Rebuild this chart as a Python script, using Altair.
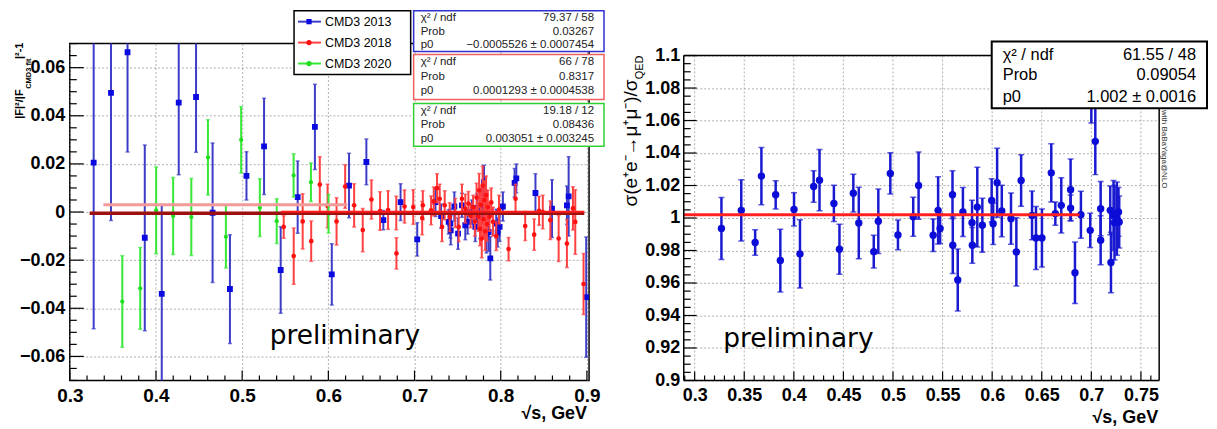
import altair as alt
import pandas as pd

# ---------------- LEFT PANEL DATA: |F|^2/|F_CMD3 fit|^2 - 1 ----------------
# (sqrt(s) [GeV], value, error)
cmd3_2013 = [
    (0.3277, 0.0205, 0.069), (0.3478, 0.0495, 0.053), (0.3670, 0.0664, 0.0415),
    (0.3870, -0.0107, 0.0386), (0.4067, -0.0340, 0.037), (0.4264, 0.0455, 0.030),
    (0.4465, 0.0478, 0.023), (0.4657, -0.0003, 0.029), (0.4858, -0.0320, 0.0226),
    (0.5050, 0.0150, 0.010), (0.5254, 0.0273, 0.020), (0.5447, -0.0241, 0.018),
    (0.5644, 0.0062, 0.015), (0.5844, 0.0354, 0.0177), (0.6040, -0.0259, 0.0127),
    (0.6240, 0.0110, 0.0134), (0.6441, 0.0208, 0.0095), (0.6638, -0.0034, 0.004),
    (0.6838, 0.0041, 0.0076), (0.7031, -0.0114, 0.0069), (0.7243, 0.0041, 0.006),
    (0.7308, -0.0017, 0.005), (0.7396, -0.0041, 0.005), (0.7416, -0.0048, 0.006),
    (0.7420, -0.0076, 0.006), (0.7462, 0.0023, 0.006), (0.7505, -0.0090, 0.0065),
    (0.7550, 0.0028, 0.005), (0.7589, -0.0055, 0.006), (0.7616, -0.0041, 0.005),
    (0.7666, 0.0000, 0.005), (0.7705, -0.0062, 0.006), (0.7724, 0.0017, 0.006),
    (0.7760, -0.0040, 0.007), (0.7785, 0.0030, 0.007), (0.7806, 0.0124, 0.007),
    (0.7820, 0.0080, 0.006), (0.7835, -0.0090, 0.008), (0.7860, -0.0083, 0.008),
    (0.7879, -0.0193, 0.009), (0.7948, -0.0048, 0.006), (0.7964, -0.0085, 0.006),
    (0.7987, -0.0062, 0.006), (0.8025, 0.0023, 0.006), (0.8161, 0.0121, 0.006),
    (0.8181, 0.0140, 0.006), (0.8403, 0.0079, 0.008), (0.8595, 0.0014, 0.012),
    (0.8768, 0.0028, 0.008), (0.8788, 0.0065, 0.0165), (0.8992, -0.0354, 0.025),
]
cmd3_2018 = [
    (0.5482, -0.0062, 0.0047), (0.5598, -0.0183, 0.0117), (0.5702, -0.0039, 0.0115),
    (0.5801, -0.0121, 0.0084), (0.5901, 0.0114, 0.0116), (0.5991, 0.0025, 0.009),
    (0.6095, -0.0039, 0.0098), (0.6195, 0.0106, 0.009), (0.6299, 0.0028, 0.009),
    (0.6399, -0.0075, 0.009), (0.6500, 0.0052, 0.0081), (0.6600, 0.0004, 0.008),
    (0.6693, 0.0008, 0.008), (0.6788, -0.0004, 0.007), (0.6790, -0.0172, 0.0065),
    (0.6884, 0.0023, 0.0069), (0.6985, 0.0021, 0.0072), (0.7089, -0.0025, 0.0069),
    (0.7096, 0.0028, 0.006), (0.7192, 0.0007, 0.006), (0.7223, 0.0044, 0.006),
    (0.7261, 0.0099, 0.006), (0.7292, 0.0055, 0.006), (0.7319, -0.0062, 0.006),
    (0.7350, 0.0028, 0.006), (0.7408, -0.0021, 0.006), (0.7473, -0.0004, 0.006),
    (0.7512, -0.0062, 0.006), (0.7550, 0.0055, 0.006), (0.7589, 0.0014, 0.006),
    (0.7625, 0.0035, 0.005), (0.7650, -0.0015, 0.005), (0.7680, 0.0020, 0.005),
    (0.7700, -0.0040, 0.006), (0.7720, 0.0060, 0.006), (0.7740, -0.0020, 0.006),
    (0.7750, 0.0090, 0.007), (0.7760, -0.0070, 0.007), (0.7770, 0.0030, 0.007),
    (0.7780, -0.0110, 0.008), (0.7790, 0.0110, 0.008), (0.7800, -0.0030, 0.008),
    (0.7810, 0.0050, 0.008), (0.7820, -0.0080, 0.008), (0.7830, 0.0070, 0.008),
    (0.7840, -0.0050, 0.007), (0.7850, 0.0020, 0.007), (0.7870, -0.0020, 0.006),
    (0.7890, 0.0040, 0.006), (0.7910, -0.0040, 0.006), (0.7948, -0.0100, 0.006),
    (0.7980, 0.0010, 0.006), (0.8091, -0.0154, 0.0048), (0.8172, 0.0055, 0.006),
    (0.8284, -0.0058, 0.006), (0.8388, -0.0094, 0.0065), (0.8445, 0.0005, 0.006),
    (0.8488, 0.0000, 0.007), (0.8576, -0.0034, 0.008), (0.8672, -0.0110, 0.0096),
    (0.8768, -0.0131, 0.010), (0.8838, 0.0015, 0.009), (0.8865, -0.0041, 0.0134),
    (0.8961, -0.0299, 0.0127),
]
cmd3_2020 = [
    (0.3609, -0.0372, 0.019), (0.3817, -0.0317, 0.017), (0.4002, 0.0007, 0.018),
    (0.4199, -0.0017, 0.016), (0.4410, -0.0021, 0.016), (0.4603, 0.0227, 0.0156),
    (0.4811, -0.0103, 0.013), (0.4988, 0.0300, 0.0138), (0.5205, 0.0018, 0.012),
    (0.5401, -0.0038, 0.0093), (0.5597, 0.0152, 0.009), (0.5798, 0.0124, 0.008),
    (0.6002, -0.0007, 0.008),
]
series_names = ["CMD3 2013", "CMD3 2018", "CMD3 2020"]
fit_p0 = [-0.0005526, 0.0001293, 0.003051]
fit_xmin = [0.323, 0.545, 0.339]
fit_xmax = [0.897, 0.897, 0.622]
stat_labels = ["\u03c7\u00b2 / ndf", "Prob", "p0"]
stat_2013 = ["79.37 / 58", "0.03267", "\u22120.0005526 \u00b1 0.0007454"]
stat_2018 = ["66 / 78", "0.8317", "0.0001293 \u00b1 0.0004538"]
stat_2020 = ["19.18 / 12", "0.08436", "0.003051 \u00b1 0.003245"]
left_xticks = [0.3, 0.4, 0.5, 0.6, 0.7, 0.8, 0.9]
left_yticks = [-0.06, -0.04, -0.02, 0.0, 0.02, 0.04, 0.06]

# ---------------- RIGHT PANEL DATA: sigma(ee->mumu)/sigma_QED ----------------
mumu = [
    (0.3270, 0.9935, 0.0191), (0.3470, 1.0047, 0.0189), (0.3610, 0.9849, 0.0079),
    (0.3673, 1.0258, 0.0176), (0.3817, 1.0143, 0.0087), (0.3864, 0.9738, 0.0193),
    (0.4002, 1.0053, 0.0102), (0.4062, 0.9779, 0.0210), (0.4200, 1.0194, 0.0097),
    (0.4259, 1.0233, 0.0189), (0.4404, 1.0090, 0.0112), (0.4460, 0.9808, 0.0154),
    (0.4600, 1.0153, 0.0116), (0.4655, 0.9969, 0.0220), (0.4806, 0.9793, 0.0101),
    (0.4852, 0.9980, 0.0198), (0.4973, 1.0274, 0.0127), (0.5050, 0.9896, 0.0092),
    (0.5204, 1.0008, 0.0120), (0.5258, 1.0200, 0.0207), (0.5405, 0.9894, 0.0100),
    (0.5455, 1.0047, 0.0207), (0.5475, 0.9935, 0.0092), (0.5600, 1.0143, 0.0148),
    (0.5603, 0.9832, 0.0174), (0.5653, 0.9618, 0.0191), (0.5705, 1.0037, 0.0151),
    (0.5797, 0.9971, 0.0138), (0.5800, 0.9832, 0.0110), (0.5850, 1.0067, 0.0245),
    (0.5901, 0.9955, 0.0166), (0.5995, 1.0108, 0.0133), (0.6010, 0.9965, 0.0128),
    (0.6050, 1.0217, 0.0213), (0.6097, 1.0043, 0.0158), (0.6190, 0.9996, 0.0158),
    (0.6244, 0.9791, 0.0210), (0.6292, 1.0231, 0.0158), (0.6402, 1.0016, 0.0150),
    (0.6442, 0.9877, 0.0194), (0.6502, 0.9877, 0.0178), (0.6596, 1.0278, 0.0179),
    (0.6637, 1.0027, 0.0072), (0.6697, 1.0078, 0.0170), (0.6791, 1.0174, 0.0189),
    (0.6791, 1.0061, 0.0080), (0.6835, 0.9663, 0.0189), (0.6895, 1.0020, 0.0145),
    (0.6989, 0.9924, 0.0105), (0.7000, 1.0720, 0.0135), (0.7040, 1.0472, 0.0205),
    (0.7094, 1.0057, 0.0167), (0.7094, 0.9863, 0.0151), (0.7191, 1.0047, 0.0150),
    (0.7198, 0.9726, 0.0186), (0.7224, 1.0016, 0.0215), (0.7234, 0.9971, 0.0230),
    (0.7258, 0.9996, 0.0225), (0.7274, 1.0037, 0.0150), (0.7281, 0.9975, 0.0160),
]
mumu_fit_p0 = [1.002]
mumu_fit_xmin = [0.289]
mumu_fit_xmax = [0.688]
mumu_stat = ["61.55 / 48", "0.09054", "1.002 \u00b1 0.0016"]
right_xticks = [0.3, 0.35, 0.4, 0.45, 0.5, 0.55, 0.6, 0.65, 0.7, 0.75]
right_yticks = [0.9, 0.92, 0.94, 0.96, 0.98, 1.0, 1.02, 1.04, 1.06, 1.08, 1.1]

FONT = "Liberation Sans"
ONE = pd.DataFrame({"a": [0]})
GRID = "#9a9a9a"


def frame(pts):
    df = pd.DataFrame(pts, columns=["x", "y", "e"])
    df["lo"] = df["y"] - df["e"]
    df["hi"] = df["y"] + df["e"]
    return df


def minor(lo, hi, step, majors):
    n = int(round((hi - lo) / step))
    vals = [round(lo + i * step, 4) for i in range(n + 1)]
    return [v for v in vals if all(abs(v - m) > 1e-6 for m in majors)]


def text(x, y, s, size, **kw):
    return alt.Chart(ONE).mark_text(font=kw.pop("font", FONT), fontSize=size, **kw).encode(
        x=alt.value(x), y=alt.value(y), text=alt.value(s))


def box(x1, x2, y1, y2, stroke, sw=1.5):
    return alt.Chart(ONE).mark_rect(fill="white", stroke=stroke, strokeWidth=sw).encode(
        x=alt.value(x1), x2=alt.value(x2), y=alt.value(y1), y2=alt.value(y2))


def hline(x1, x2, y, color="black", sw=1.5):
    return alt.Chart(ONE).mark_rule(color=color, strokeWidth=sw).encode(
        x=alt.value(x1), x2=alt.value(x2), y=alt.value(y))


def vline(x, y1, y2, color="black", sw=1.5):
    return alt.Chart(ONE).mark_rule(color=color, strokeWidth=sw).encode(
        x=alt.value(x), y=alt.value(y1), y2=alt.value(y2))


def panel(xs, ys, xaxis, yaxis, W, H, top, xmaj, xmin_, ymaj, ymin_, tl, xgrid):
    def X(f):
        return alt.X(f, type="quantitative", scale=xs, axis=xaxis, title=None)

    def Y(f):
        return alt.Y(f, type="quantitative", scale=ys, axis=yaxis, title=None)

    layers = []
    xmj = pd.DataFrame({"v": xmaj})
    xmn = pd.DataFrame({"v": xmin_})
    ymj = pd.DataFrame({"v": ymaj})
    ymn = pd.DataFrame({"v": ymin_})
    if xgrid:
        layers.append(alt.Chart(xmj).mark_rule(color=GRID, strokeWidth=0.8, strokeDash=[2, 2]).encode(
            x=X("v"), y=alt.value(top), y2=alt.value(H)))
    layers.append(alt.Chart(xmj).mark_rule(color="black", strokeWidth=1.2).encode(
        x=X("v"), y=alt.value(H), y2=alt.value(H - tl[0])))
    layers.append(alt.Chart(xmn).mark_rule(color="black", strokeWidth=1.2).encode(
        x=X("v"), y=alt.value(H), y2=alt.value(H - tl[1])))
    layers.append(alt.Chart(ymj).mark_rule(color="black", strokeWidth=1.2).encode(
        y=Y("v"), x=alt.value(0), x2=alt.value(tl[2])))
    layers.append(alt.Chart(ymn).mark_rule(color="black", strokeWidth=1.2).encode(
        y=Y("v"), x=alt.value(0), x2=alt.value(tl[3])))
    return X, Y, layers


def series(df, X, Y, barcol, markcol, shape, size, bw, cap):
    return [
        alt.Chart(df).mark_rule(color=barcol, strokeWidth=bw, clip=True).encode(
            x=X("x"), y=Y("lo"), y2=alt.Y2("hi")),
        alt.Chart(df).mark_tick(color=barcol, orient="horizontal", size=cap, thickness=1.5,
                                clip=True).encode(x=X("x"), y=Y("lo")),
        alt.Chart(df).mark_tick(color=barcol, orient="horizontal", size=cap, thickness=1.5,
                                clip=True).encode(x=X("x"), y=Y("hi")),
        alt.Chart(df).mark_point(shape=shape, filled=True, size=size, color=markcol,
                                 opacity=1, clip=True).encode(x=X("x"), y=Y("y")),
    ]


def axis_cfg(vals, fmt, size, pad, grid=True):
    return alt.Axis(values=vals, labelExpr="format(datum.value, '%s')" % fmt,
                    labelFont=FONT, labelFontSize=size, labelFontWeight="bold",
                    labelColor="black", labelPadding=pad, labelFlush=False,
                    labelOverlap=False, ticks=False, domain=False, grid=grid,
                    gridDash=[2, 2], gridColor=GRID, gridWidth=0.8)


# ================= LEFT =================
LW, LH = 521, 338
xsL = alt.Scale(domain=[0.3, 0.9025], nice=False, zero=False)
ysL = alt.Scale(domain=[-0.07, 0.07], nice=False, zero=False)
axLx = axis_cfg(left_xticks, ".1f", 19, 6)
axLy = axis_cfg(left_yticks, ".2~f", 18, 5)
XL, YL, L = panel(xsL, ysL, axLx, axLy, LW, LH, 0, left_xticks,
                  minor(0.3, 0.9, 0.02, left_xticks), left_yticks,
                  minor(-0.07, 0.07, 0.005, left_yticks), (10, 5, 14, 7), False)

L += series(frame(cmd3_2013), XL, YL, "#3c3cc8", "#0a0ae0", "square", 34, 2, 4)
L += series(frame(cmd3_2018), XL, YL, "#ff4040", "#ff1010", "circle", 22, 2, 4)
L += series(frame(cmd3_2020), XL, YL, "#38e838", "#20dd20", "circle", 18, 2, 4)

fits = pd.DataFrame({"p0": fit_p0, "x0": fit_xmin, "x1": fit_xmax})
L.append(alt.Chart(fits.iloc[[2]]).mark_rule(color="#f29a9a", strokeWidth=3).encode(
    x=XL("x0"), x2=alt.X2("x1"), y=YL("p0")))
L.append(alt.Chart(fits.iloc[[0]]).mark_rule(color="#9c1010", strokeWidth=3.5).encode(
    x=XL("x0"), x2=alt.X2("x1"), y=YL("p0")))
L.append(alt.Chart(fits.iloc[[1]]).mark_rule(color="#ff1a1a", strokeWidth=2).encode(
    x=XL("x0"), x2=alt.X2("x1"), y=YL("p0")))

# legend box
L.append(box(225, 342, -33, 31, "black"))
leg_cols = [("#3c3cc8", "#0a0ae0", "square"), ("#ff4040", "#ff1010", "circle"),
            ("#38e838", "#20dd20", "circle")]
for i, (name, (bc, mc, shp)) in enumerate(zip(series_names, leg_cols)):
    yy = -22 + 21 * i
    L.append(hline(229, 252, yy, bc, 2))
    L.append(alt.Chart(ONE).mark_point(shape=shp, filled=True, size=28, color=mc, opacity=1).encode(
        x=alt.value(240), y=alt.value(yy)))
    L.append(text(256, yy, name, 12.5, align="left", baseline="middle", color="black"))

# stat boxes
for (y1, y2, col, vals, rows) in [(-33, 8, "#3030d0", stat_2013, (-26, -12, 1)),
                                  (11, 56, "#f06060", stat_2018, (18, 34, 48)),
                                  (60, 103, "#30d030", stat_2020, (68, 82, 96))]:
    L.append(box(345, 536, y1, y2, col))
    for lab, val, ry in zip(stat_labels, vals, rows):
        L.append(text(352, ry, lab, 11.5, align="left", baseline="middle", color="#222"))
        L.append(text(526, ry, val, 11.5, align="right", baseline="middle", color="#222"))

# axis titles / annotations
L.append(text(519, 372, "\u221as, GeV", 18, align="right", baseline="middle",
              fontWeight="bold", color="black"))
L.append(text(-50, -1, "|\u00b2-1", 11, align="right", baseline="middle", angle=270,
              fontWeight="bold", color="black"))
L.append(text(-41, 15, "CMD3 fit", 7.5, align="right", baseline="middle", angle=270,
              fontWeight="bold", color="black"))
L.append(text(-50, 46, "|F|\u00b2/|F", 11, align="right", baseline="middle", angle=270,
              fontWeight="bold", color="black"))
L.append(text(276, 293, "preliminary", 26.5, align="center", baseline="middle",
              font="DejaVu Sans", color="black"))
L.append(alt.Chart(ONE).mark_rule(color="white", strokeWidth=1).encode(
    x=alt.value(-60), x2=alt.value(-59), y=alt.value(-33)))

left = alt.layer(*L).properties(width=LW, height=LH,
                                view=alt.ViewBackground(stroke="black", strokeWidth=1.5))

# ================= RIGHT =================
# plot frame is 326 px tall, drawn 12 px below the top of a 338 px view
RW, RH, RT = 477, 338, 12
xsR = alt.Scale(domain=[0.289, 0.7684], nice=False, zero=False)
ysR = alt.Scale(domain=[0.9, 1.1 + 0.2 * RT / (RH - RT)], nice=False, zero=False)
axRx = axis_cfg(right_xticks, ".2~f", 18, 6, grid=False)
axRy = axis_cfg(right_yticks, ".2~f", 18, 4)
XR, YR, R = panel(xsR, ysR, axRx, axRy, RW, RH, RT, right_xticks,
                  minor(0.29, 0.76, 0.01, right_xticks), right_yticks,
                  minor(0.9, 1.1, 0.005, right_yticks), (9, 5, 13, 7), True)
R += series(frame(mumu), XR, YR, "#1a1ad0", "#0c0cd8", "circle", 55, 2.5, 6)
mf = pd.DataFrame({"p0": mumu_fit_p0, "x0": mumu_fit_xmin, "x1": mumu_fit_xmax})
R.append(alt.Chart(mf).mark_rule(color="#ff2020", strokeWidth=3).encode(
    x=XR("x0"), x2=alt.X2("x1"), y=YR("p0")))
# frame
R.append(hline(0, RW, RT))
R.append(hline(0, RW, RH))
R.append(vline(0, RT, RH))
R.append(vline(RW, RT, RH))
R.append(box(309, 525, -2, 65, "black", 2))
for lab, val, ry in zip(stat_labels, mumu_stat, (11, 32, 54)):
    R.append(text(320, ry, lab, 16.5, align="left", baseline="middle", color="black"))
    R.append(text(514, ry, val, 16.5, align="right", baseline="middle", color="black"))
R.append(text(482, 106, "with BaBaYaga@NLO", 8, align="center", baseline="middle",
              angle=90, color="#333"))
R.append(text(476, 376, "\u221as, GeV", 18, align="right", baseline="middle",
              fontWeight="bold", color="black"))
R.append(text(-44, 12, "QED", 11, align="right", baseline="middle", angle=270, color="black"))
R.append(text(-53, 36, "\u03c3(e\u207ae\u207b\u2192\u03bc\u207a\u03bc\u207b)/\u03c3", 19,
              align="right", baseline="middle", angle=270, color="black"))
R.append(text(115, 296, "preliminary", 26.5, align="center", baseline="middle",
              font="DejaVu Sans", color="black"))
R.append(alt.Chart(ONE).mark_rule(color="white", strokeWidth=1).encode(
    x=alt.value(-68), x2=alt.value(-67), y=alt.value(-33)))

right = alt.layer(*R).properties(width=RW, height=RH,
                                 view=alt.ViewBackground(stroke="transparent"))

chart = alt.hconcat(left, right, spacing=9).properties(padding=0)

chart.save("out.html", embed_options={"renderer": "svg", "actions": False})
